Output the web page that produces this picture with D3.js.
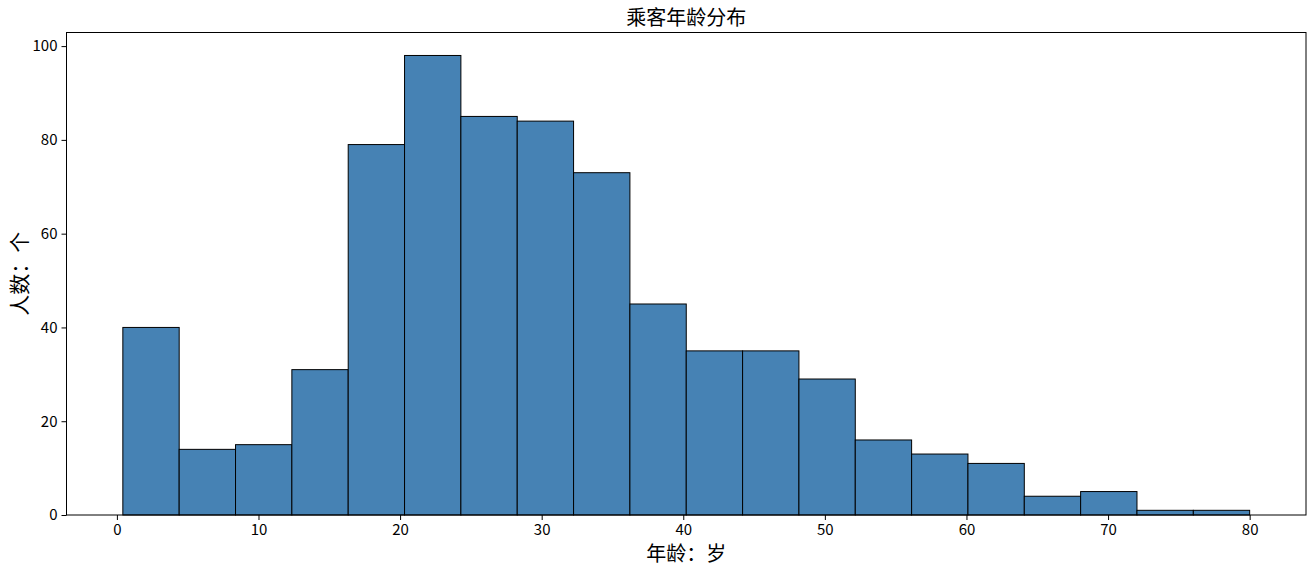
<!DOCTYPE html>
<html>
<head>
<meta charset="utf-8">
<script src="https://cdn.jsdelivr.net/npm/d3@7"></script>
<style>
  body { margin: 0; background: #fff; }
  svg text { font-family: "Noto Sans CJK SC", "DejaVu Sans", sans-serif; fill: #000; }
</style>
</head>
<body>
<svg width="1314" height="570"></svg>
<script>
// bin edges: 20 equal bins from min to max age
const minAge = 0.42;
const maxAge = 80;
const counts = [40, 14, 15, 31, 79, 98, 85, 84, 73, 45, 35, 35, 29, 16, 13, 11, 4, 5, 1, 1];
const xTicks = [0, 10, 20, 30, 40, 50, 60, 70, 80];
const yTicks = [0, 20, 40, 60, 80, 100];

const step = (maxAge - minAge) / counts.length;
const bins = counts.map((c, i) => ({ x0: minAge + i * step, x1: minAge + (i + 1) * step, n: c }));

const svg = d3.select("svg"),
    margin = { top: 32.5, right: 8, bottom: 55, left: 66.5 },
    graphWidth = 1314 - margin.left - margin.right,
    graphHeight = 570 - margin.top - margin.bottom;

const pad = (maxAge - minAge) * 0.05;
const x = d3.scaleLinear().domain([minAge - pad, maxAge + pad]).range([0, graphWidth]);
const y = d3.scaleLinear().domain([0, d3.max(counts) * 1.05]).range([graphHeight, 0]);

const g = svg.append("g")
    .attr("transform", `translate(${margin.left}, ${margin.top})`);

g.selectAll("rect")
    .data(bins)
    .enter()
    .append("rect")
    .attr("x", d => x(d.x0))
    .attr("y", d => y(d.n))
    .attr("width", d => x(d.x1) - x(d.x0))
    .attr("height", d => y(0) - y(d.n))
    .attr("fill", "#4682b4")
    .attr("stroke", "#000")
    .attr("stroke-width", 1);

const xAxis = g.append("g")
    .attr("transform", `translate(0, ${graphHeight})`)
    .call(d3.axisBottom(x).tickValues(xTicks).tickSize(5).tickPadding(4));
const yAxis = g.append("g")
    .call(d3.axisLeft(y).tickValues(yTicks).tickSize(5).tickPadding(4));

[xAxis, yAxis].forEach(a => {
    a.select(".domain").remove();
    a.selectAll("text").style("font-size", "15px");
    a.selectAll("line").attr("stroke", "#000");
});

// frame
g.append("rect")
    .attr("width", graphWidth)
    .attr("height", graphHeight)
    .attr("fill", "none")
    .attr("stroke", "#000")
    .attr("stroke-width", 1);

svg.append("text")
    .attr("x", margin.left + graphWidth / 2)
    .attr("y", 25)
    .attr("text-anchor", "middle")
    .style("font-size", "20px")
    .text("乘客年龄分布");

svg.append("text")
    .attr("x", margin.left + graphWidth / 2)
    .attr("y", 561)
    .attr("text-anchor", "middle")
    .style("font-size", "20px")
    .text("年龄：岁");

svg.append("text")
    .attr("transform", `translate(27, ${margin.top + graphHeight / 2}) rotate(-90)`)
    .attr("text-anchor", "middle")
    .style("font-size", "21px")
    .text("人数：个");
</script>
</body>
</html>
